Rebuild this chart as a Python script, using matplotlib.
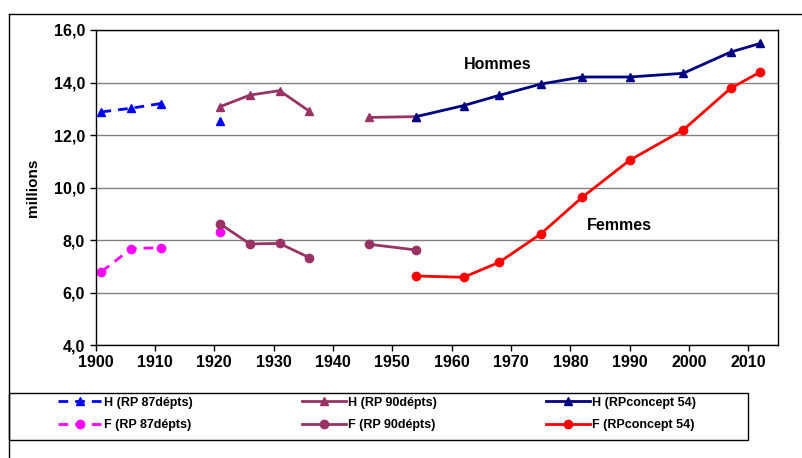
import numpy as np
import matplotlib.pyplot as plt
from matplotlib.lines import Line2D
from matplotlib.patches import Rectangle

plt.rcParams['font.family'] = ['Liberation Sans', 'DejaVu Sans']
plt.rcParams['font.weight'] = 'bold'

# --- data (millions) -------------------------------------------------------
years_87 = [1901, 1906, 1911, 1916, 1921]
h_87 = [12.88, 13.02, 13.20, np.nan, 12.55]
f_87 = [6.79, 7.67, 7.71, np.nan, 8.30]

years_90 = [1921, 1926, 1931, 1936, 1941, 1946, 1954]
h_90 = [13.08, 13.52, 13.69, 12.91, np.nan, 12.67, 12.70]
f_90 = [8.61, 7.85, 7.87, 7.33, np.nan, 7.84, 7.62]

years_54 = [1954, 1962, 1968, 1975, 1982, 1990, 1999, 2007, 2012]
h_54 = [12.70, 13.12, 13.51, 13.94, 14.21, 14.21, 14.35, 15.16, 15.49]
f_54 = [6.63, 6.58, 7.15, 8.23, 9.63, 11.04, 12.19, 13.78, 14.40]

yticks = [4, 6, 8, 10, 12, 14, 16]
xticks = list(range(1900, 2011, 10))

fig = plt.figure(figsize=(8.03, 4.58), dpi=100)
ax = fig.add_axes([0.119, 0.2467, 0.850, 0.6878])

dash = (0, (3.5, 2.5))
ax.plot(years_87, h_87, color='#0000FF', lw=2, ls=dash, marker='^', ms=6,
        label='H (RP 87dépts)')
ax.plot(years_87, f_87, color='#FF00FF', lw=2, ls=dash, marker='o', ms=6,
        label='F (RP 87dépts)')
ax.plot(years_90, h_90, color='#993366', lw=2, marker='^', ms=6,
        label='H (RP 90dépts)')
ax.plot(years_90, f_90, color='#993366', lw=2, marker='o', ms=6,
        label='F (RP 90dépts)')
ax.plot(years_54, h_54, color='#000080', lw=2, marker='^', ms=6,
        label='H (RPconcept 54)')
ax.plot(years_54, f_54, color='#FF0000', lw=2, marker='o', ms=6,
        label='F (RPconcept 54)')

ax.set_xlim(1900, 2015)
ax.set_ylim(4, 16)
ax.set_xticks(xticks)
ax.set_yticks(yticks)
ax.set_yticklabels([f'{v:.1f}'.replace('.', ',') for v in yticks])
ax.tick_params(labelsize=11.5, length=4, direction='out', width=1)
for lab in ax.get_xticklabels() + ax.get_yticklabels():
    lab.set_fontweight('bold')
ax.grid(axis='y', color='#808080', lw=1)
ax.set_axisbelow(True)
for s in ax.spines.values():
    s.set_color('black')
    s.set_linewidth(1)
ax.set_ylabel('millions', fontsize=11, fontweight='bold', labelpad=10)

ax.text(1967.7, 14.7, 'Hommes', fontsize=11.5, fontweight='bold', ha='center', va='center')
ax.text(1988.2, 8.57, 'Femmes', fontsize=11.5, fontweight='bold', ha='center', va='center')

# outer chart frame (cropped) and legend
fig.add_artist(Line2D([9.5 / 803, 1.0], [1 - 14 / 458] * 2, color='black', lw=1,
                      transform=fig.transFigure))
fig.add_artist(Line2D([9.5 / 803] * 2, [0, 1 - 14 / 458], color='black', lw=1,
                      transform=fig.transFigure))
fig.add_artist(Rectangle((9.5 / 803, 1 - 440 / 458), (748 - 9.5) / 803, 47 / 458,
                         fill=False, ec='black', lw=1, transform=fig.transFigure))

h, l = ax.get_legend_handles_labels()
leg = fig.legend(h, l, ncol=3, loc='center left', bbox_to_anchor=(52 / 803, 1 - 414 / 458),
                 frameon=False, fontsize=9, handlelength=3.5, handletextpad=0.2,
                 columnspacing=8.7, labelspacing=0.85, borderpad=0)
for t in leg.get_texts():
    t.set_fontweight('bold')

fig.savefig('out.png', dpi=100)
